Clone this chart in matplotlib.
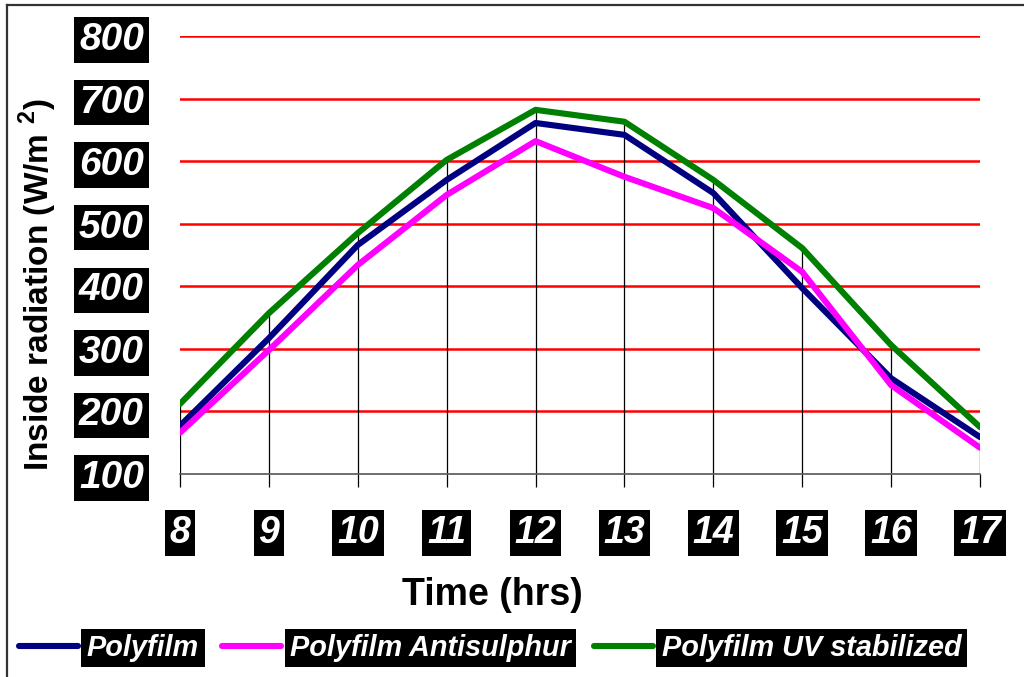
#!/usr/bin/env python3

import numpy as np
import matplotlib
matplotlib.use('Agg')
import matplotlib.pyplot as plt
from matplotlib.lines import Line2D

plt.rcParams['font.family'] = ['Liberation Sans', 'DejaVu Sans']
plt.rcParams['mathtext.fontset'] = 'custom'
plt.rcParams['mathtext.rm'] = 'Liberation Sans:bold'
plt.rcParams['mathtext.bf'] = 'Liberation Sans:bold'

# dati
hours = [8, 9, 10, 11, 12, 13, 14, 15, 16, 17]
polyfilm = [177, 317, 466, 570, 661, 642, 549, 397, 253, 159]
antisulphur = [166, 298, 434, 546, 632, 575, 525, 423, 242, 142]
uv_stabilized = [212, 357, 485, 602, 682, 663, 570, 461, 306, 175]
y_ticks = [100, 200, 300, 400, 500, 600, 700, 800]

series = [
    ('Polyfilm', polyfilm, '#000080'),
    ('Polyfilm Antisulphur', antisulphur, '#FF00FF'),
    ('Polyfilm UV stabilized', uv_stabilized, '#008000'),
]

fig = plt.figure(figsize=(10.24, 6.77), dpi=100)
ax = fig.add_axes([180 / 1024, 1 - 474 / 677, 800 / 1024, 438 / 677])

# griglia orizzontale rossa
for v in y_ticks[1:]:
    ax.axhline(v, color='#FF0000', lw=1.8, zorder=1)

# linee verticali dal massimo all'asse
top = np.maximum.reduce([np.array(s[1]) for s in series])
ax.vlines(hours, 100, top, color='black', lw=0.9, zorder=2)

for name, vals, col in series:
    ax.plot(hours, vals, color=col, lw=4.4, label=name, zorder=3,
            solid_capstyle='round', solid_joinstyle='round')

ax.set_xlim(8, 17)
ax.set_ylim(100, 800)
ax.set_xticks(hours)
ax.set_yticks(y_ticks)
for s in ['top', 'right', 'left']:
    ax.spines[s].set_visible(False)
ax.spines['bottom'].set_color('#555555')
ax.spines['bottom'].set_linewidth(1.2)
ax.spines['bottom'].set_zorder(4)

ax.tick_params(axis='y', length=0, pad=26)
ax.tick_params(axis='x', length=9.5, width=0.9, color='black', pad=20)
ax.set_xticklabels([str(h) for h in hours])
ax.set_yticklabels([str(v) for v in y_ticks])
for lab in ax.get_xticklabels():
    lab.set_fontsize(27)
for lab in ax.get_yticklabels():
    lab.set_fontsize(28)
for lab in ax.get_xticklabels() + ax.get_yticklabels():
    lab.set_fontweight('bold')
    lab.set_fontstyle('italic')
    lab.set_color('white')
    lab.set_bbox(dict(facecolor='black', edgecolor='none', pad=3.5))

fig.text(492 / 1024, 1 - 605 / 677, 'Time (hrs)', fontsize=27,
         fontweight='bold', ha='center', va='baseline')
fig.text(38 / 1024, 1 - 285 / 677, r'Inside radiation (W/m $^{2}$)',
         fontsize=24, fontweight='bold', rotation=90, ha='center', va='center')

leg = fig.legend(loc='center left', bbox_to_anchor=(19 / 1024, 1 - 648 / 677),
                 ncol=3, frameon=False, borderpad=0, borderaxespad=0,
                 handlelength=2.05, handletextpad=0.3, columnspacing=0.8,
                 prop={'size': 20.8, 'weight': 'bold', 'style': 'italic'})
for t in leg.get_texts():
    t.set_color('white')
    t.set_bbox(dict(facecolor='black', edgecolor='none', pad=4))
for h in leg.get_lines():
    h.set_linewidth(4.4)
    h.set_solid_capstyle('round')

# cornice
fig.add_artist(Line2D([7 / 1024, 1], [1 - 5 / 677, 1 - 5 / 677],
                      transform=fig.transFigure, color='#333333', lw=1.6))
fig.add_artist(Line2D([7 / 1024, 7 / 1024], [0, 1 - 5 / 677],
                      transform=fig.transFigure, color='#333333', lw=1.6))

fig.savefig('out.png', dpi=100)
